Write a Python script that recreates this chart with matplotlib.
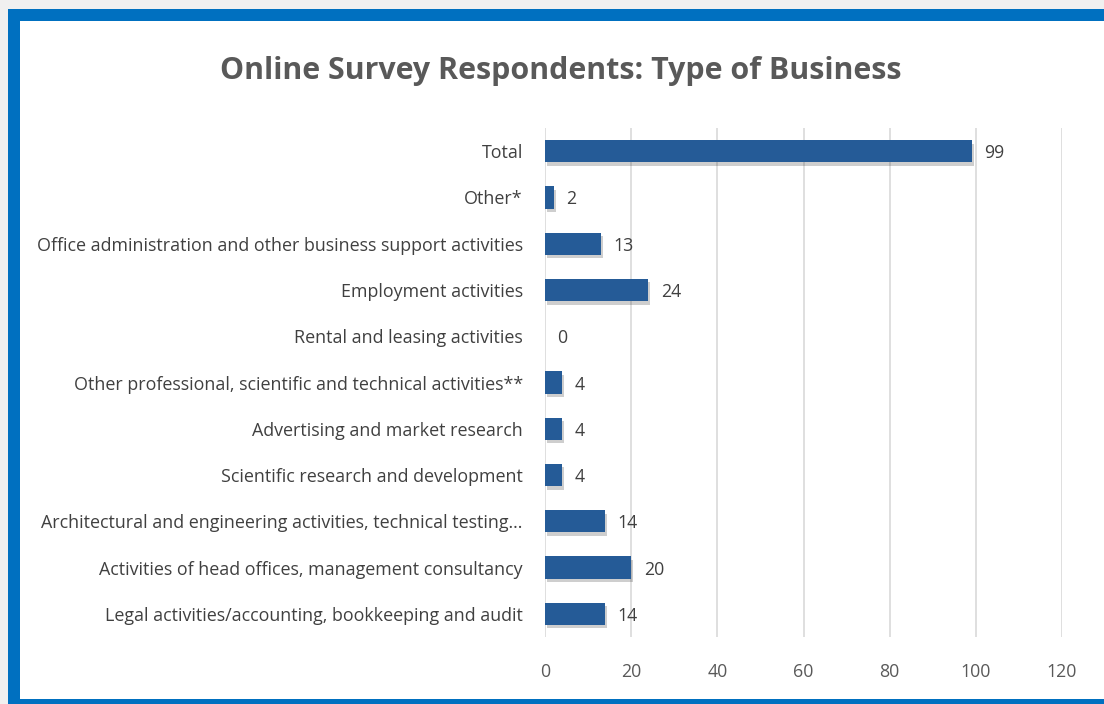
import matplotlib.pyplot as plt
import matplotlib.patheffects as pe
from matplotlib.patches import Rectangle

plt.rcParams['font.family'] = ['Open Sans', 'DejaVu Sans']

## Data (top to bottom as in the chart)
categories = [
    "Total",
    "Other*",
    "Office administration and other business support activities",
    "Employment activities",
    "Rental and leasing activities",
    "Other professional, scientific and technical activities**",
    "Advertising and market research",
    "Scientific research and development",
    "Architectural and engineering activities, technical testing...",
    "Activities of head offices, management consultancy",
    "Legal activities/accounting, bookkeeping and audit",
]
values = [99, 2, 13, 24, 0, 4, 4, 4, 14, 20, 14]
xticks = [0, 20, 40, 60, 80, 100, 120]

bar_col = '#255b97'
txt_col = '#404040'
W, H = 1104, 704

fig = plt.figure(figsize=(W / 100, H / 100), dpi=100)
fig.patch.set_facecolor('#f0f0f0')

# blue frame + white panel (screenshot border)
fig.patches.append(Rectangle((8 / W, 0), 1, 1 - 9 / H, transform=fig.transFigure,
                             facecolor='#0070c0', edgecolor='none', zorder=-2))
fig.patches.append(Rectangle((20 / W, 5 / H), 1, 1 - 26 / H, transform=fig.transFigure,
                             facecolor='white', edgecolor='none', zorder=-1))

ax = fig.add_axes([545 / W, 1 - 637 / H, 517 / W, 509 / H])
ax.set_facecolor('none')

pos = list(range(len(categories)))
bars = ax.barh(pos, values, height=0.48, color=bar_col, zorder=3)
for b in bars:
    b.set_path_effects([pe.SimplePatchShadow(offset=(1.5, -2.5), alpha=0.22, shadow_rgbFace='#222222'),
                        pe.Normal()])

for p, v in zip(pos, values):
    ax.annotate(str(v), (v, p), xytext=(9, -1.5), textcoords='offset points',
                va='center', ha='left', fontsize=12.8, color=txt_col)

ax.set_xlim(0, 120)
ax.set_ylim(len(categories) - 0.5, -0.5)
ax.set_xticks(xticks)
ax.set_yticks(pos)
ax.set_yticklabels(categories)
ax.tick_params(axis='y', length=0, pad=16, labelsize=12.9, labelcolor=txt_col)
ax.tick_params(axis='x', length=0, pad=19, labelsize=12.8, labelcolor='#595959')
ax.grid(axis='x', color='#d9d9d9', linewidth=1.2, zorder=0)
for s in ax.spines.values():
    s.set_visible(False)

fig.text(561 / W, 1 - 71 / H, "Online Survey Respondents: Type of Business",
         ha='center', va='center', fontsize=21.9, fontweight='bold', color='#595959')

fig.savefig('out.png', dpi=100)
